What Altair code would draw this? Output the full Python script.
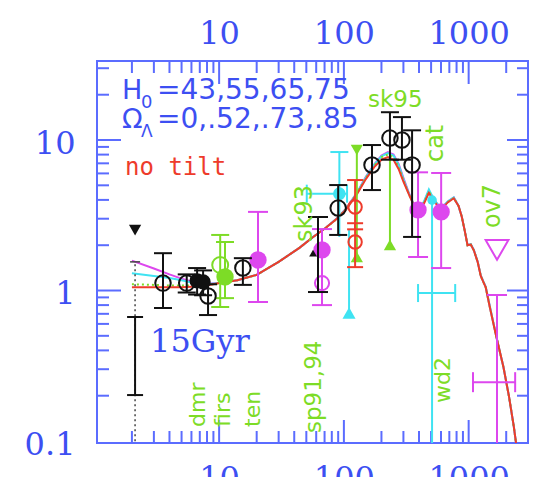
import altair as alt
import pandas as pd

# ---- colours ---------------------------------------------------------------
FRAME = "#5b6cff"
INK = "#3d4ff2"
MAGENTA = "#dd47ee"
CYAN = "#3fe3f2"
GREEN = "#7ddc26"
RED = "#ee3b2b"
BLACK = "#111111"

W, H = 431, 382
L_DOMAIN = [1.05, 2990]
V_DOMAIN = [0.097, 33.5]

# ---- model power spectra (four H0 / Omega_Lambda combinations) -------------
ell = [2, 3, 4, 5, 6, 8, 10, 14, 20, 30, 44, 56, 72, 86, 104, 127, 150, 175,
       200, 225, 250, 275, 300, 330, 360, 400, 440, 480, 530, 600, 680, 760,
       830, 880, 930, 980, 1040, 1100, 1180, 1250, 1310, 1370, 1480, 1660,
       1900, 2100, 2300, 2500]
curve_magenta = [1.58, 1.40, 1.28, 1.20, 1.15, 1.11, 1.12, 1.17, 1.27, 1.55,
                 1.92, 2.25, 2.62, 2.97, 3.5, 4.45, 5.7, 6.9, 7.9, 8.3, 8.0,
                 6.9, 5.6, 4.5, 3.8, 3.45, 3.9, 4.6, 4.0, 3.5, 3.9, 4.15,
                 3.65, 3.1, 2.5, 2.0, 2.03, 1.86, 1.56, 1.26, 1.15, 1.06,
                 0.78, 0.50, 0.31, 0.20, 0.125, 0.075]
curve_cyan = [1.30, 1.25, 1.21, 1.17, 1.13, 1.10, 1.12, 1.17, 1.27, 1.55,
              1.92, 2.25, 2.62, 2.96, 3.48, 4.42, 5.65, 6.85, 7.8, 8.2, 7.9,
              6.8, 5.5, 4.45, 3.78, 3.45, 3.92, 4.7, 4.0, 3.5, 3.9, 4.15,
              3.65, 3.1, 2.5, 2.0, 2.03, 1.86, 1.56, 1.26, 1.15, 1.06, 0.78,
              0.50, 0.31, 0.20, 0.125, 0.075]
curve_green = [1.10, 1.09, 1.08, 1.08, 1.08, 1.09, 1.12, 1.17, 1.27, 1.55,
               1.92, 2.25, 2.62, 2.95, 3.47, 4.4, 5.6, 6.75, 7.7, 8.0, 7.7,
               6.6, 5.4, 4.42, 3.76, 3.42, 3.85, 4.55, 3.95, 3.48, 3.87,
               4.12, 3.65, 3.1, 2.5, 2.0, 2.02, 1.85, 1.55, 1.25, 1.14, 1.05,
               0.77, 0.50, 0.31, 0.20, 0.125, 0.075]
curve_red = [1.05, 1.05, 1.05, 1.05, 1.06, 1.08, 1.12, 1.17, 1.27, 1.55,
             1.92, 2.25, 2.62, 2.95, 3.45, 4.35, 5.5, 6.6, 7.4, 7.7, 7.4,
             6.4, 5.3, 4.4, 3.75, 3.4, 3.8, 4.45, 3.9, 3.45, 3.85, 4.1,
             3.65, 3.1, 2.5, 2.0, 2.02, 1.85, 1.55, 1.25, 1.14, 1.05, 0.77,
             0.50, 0.31, 0.20, 0.125, 0.075]

# ---- measurements ------------------------------------------------------------
# compilation: open black circles
cmp_l = [3.55, 5.5, 8.15, 15.5, 90, 168, 234, 292, 352]
cmp_v = [1.12, 1.12, 0.92, 1.41, 3.53, 6.82, 10.3, 10.0, 6.82]
cmp_lo = [0.765, 0.97, 0.687, 1.09, 2.34, 4.65, 7.4, 7.4, 2.27]
cmp_hi = [1.77, 1.28, 1.10, 1.64, 5.02, 9.26, 15.3, 14.2, 11.6]
# DMR: filled black circles
dmr_l = [6.66, 7.44]
dmr_v = [1.16, 1.14]
dmr_lo = [0.94, 0.93]
dmr_hi = [1.41, 1.36]
# quadrupole
quad_l = [2.12]
quad_limit = [2.52]
quad_top = [1.55]
quad_lo = [0.202]
quad_hi = [0.667]
# bar with a small triangle marker near l~60
sp_l = [62]
sp_lo = [0.977]
sp_hi = [3.08]
sp_tri_l = [56.6]
sp_tri_v = [1.77]
# FIRS (open) and Tenerife-like (filled) green points
firs_l = [10.2]
firs_v = [1.477]
firs_lo = [0.777]
firs_hi = [2.34]
grn_l = [11.15]
grn_v = [1.23]
grn_lo = [0.89]
grn_hi = [2.10]
# green triangle ranges
gtri_l = [127, 234]
gtri_top = [8.58, 7.36]
gtri_bot = [1.67, 2.01]
# magenta filled points
mag_l = [20.5, 66.8, 393, 602]
mag_v = [1.595, 1.86, 3.43, 3.33]
mag_lo = [0.839, 0.80, 1.67, 1.41]
mag_hi = [3.33, 2.56, 6.1, 6.04]
mag_open_l = [66.8]
mag_open_v = [1.12]
ov7_l = [1688]
ov7_v = [1.86]
hi_l = [1688]
hi_v = [0.246]
hi_l_lo = [1083]
hi_l_hi = [2359]
hi_v_lo = [0.05]
hi_v_hi = [0.934]
# cyan points
cy_l = [92]
cy_v = [4.4]
cy_lo = [2.27]
cy_hi = [8.32]
cy_l_lo = [50.4]
cy_l_hi = [106]
cy2_l = [110]
cy2_top = [2.52]
cy2_bot = [0.709]
wd_l = [509]
wd_top = [3.99]
wd_bot = [0.05]
wd_v = [0.962]
wd_l_lo = [393]
wd_l_hi = [780]
# Saskatoon-like open red circles
sk_l = [123, 123]
sk_v = [3.59, 2.10]
sk_lo = [2.55, 1.43]
sk_hi = [5.42, 2.8]

# ---- axis ticks ----------------------------------------------------------------
l_minor = [2, 3, 4, 5, 6, 7, 8, 9, 20, 30, 40, 50, 60, 70, 80, 90,
           200, 300, 400, 500, 600, 700, 800, 900, 2000]
l_major = [10, 100, 1000]
v_minor = [0.2, 0.3, 0.4, 0.5, 0.6, 0.7, 0.8, 0.9,
           2, 3, 4, 5, 6, 7, 8, 9, 20, 30]
v_major = [1, 10]
v_labels = [0.1, 1, 10]

XS = alt.Scale(type="log", domain=L_DOMAIN, nice=False)
YS = alt.Scale(type="log", domain=V_DOMAIN, nice=False)


def xq(field, axis=None):
    return alt.X(field, type="quantitative", scale=XS, axis=axis)


def yq(field, axis=None):
    return alt.Y(field, type="quantitative", scale=YS, axis=axis)


LAB = dict(domain=False, ticks=False, tickSize=0, grid=False, title=None,
           labelFont="DejaVu Serif", labelFontSize=32, labelColor=INK,
           labelOverlap=False, labelFlush=False, labelBound=False)
AX_BOTTOM = alt.Axis(orient="bottom", values=l_major, format="d",
                     labelPadding=20, **LAB)
AX_TOP = alt.Axis(orient="top", values=l_major, format="d",
                  labelPadding=11, **LAB)
AX_LEFT = alt.Axis(orient="left", values=v_labels, format="~g",
                   labelPadding=22, labelOffset=3, **LAB)


def xticks(vals, length, side, axis=None):
    df = pd.DataFrame({"t": vals})
    y0, y1 = (0, length) if side == "top" else (H, H - length)
    return alt.Chart(df).mark_rule(color=FRAME, strokeWidth=2).encode(
        x=xq("t", axis), y=alt.value(y0), y2=alt.value(y1))


def yticks(vals, length, side, axis=None):
    df = pd.DataFrame({"t": vals})
    x0, x1 = (0, length) if side == "left" else (W, W - length)
    return alt.Chart(df).mark_rule(color=FRAME, strokeWidth=2).encode(
        y=yq("t", axis), x=alt.value(x0), x2=alt.value(x1))


def curve(vals, color, dash=None):
    df = pd.DataFrame({"l": ell, "v": vals})
    kw = dict(color=color, strokeWidth=2, clip=True)
    if dash:
        kw["strokeDash"] = dash
    return alt.Chart(df).mark_line(**kw).encode(x=xq("l"), y=yq("v"))


def vbars(ls, lo, hi, color, cap=9, width=2, caps=("lo", "hi"), dash=None):
    df = pd.DataFrame({"l": ls, "lo": lo, "hi": hi})
    base = alt.Chart(df)
    kw = dict(color=color, strokeWidth=width, clip=True)
    if dash:
        kw["strokeDash"] = dash
    out = [base.mark_rule(**kw).encode(x=xq("l"), y=yq("lo"), y2=alt.Y2("hi"))]
    for f in caps:
        out.append(base.mark_rule(color=color, strokeWidth=width, clip=True,
                                  xOffset=-cap, x2Offset=cap).encode(
            x=xq("l"), x2=alt.X2("l"), y=yq(f)))
    return out


def hbars(v, llo, lhi, color, cap=9, width=2):
    df = pd.DataFrame({"v": v, "a": llo, "b": lhi})
    base = alt.Chart(df)
    out = [base.mark_rule(color=color, strokeWidth=width, clip=True).encode(
        x=xq("a"), x2=alt.X2("b"), y=yq("v"))]
    for f in ("a", "b"):
        out.append(base.mark_rule(color=color, strokeWidth=width, clip=True,
                                  yOffset=-cap, y2Offset=cap).encode(
            x=xq(f), y=yq("v"), y2=alt.Y2("v")))
    return out


def pts(ls, vs, color, shape, size, filled, sw=2):
    df = pd.DataFrame({"l": ls, "v": vs})
    return alt.Chart(df).mark_point(
        shape=shape, size=size, filled=filled, color=color, strokeWidth=sw,
        opacity=1, clip=True).encode(x=xq("l"), y=yq("v"))


def label(text, l, v, color, size, font="DejaVu Sans", angle=0, dx=0, dy=0):
    df = pd.DataFrame({"l": [l], "v": [v], "t": [text]})
    return alt.Chart(df).mark_text(
        text=text, font=font, fontSize=size, color=color, angle=angle,
        dx=dx, dy=dy, align="left", baseline="alphabetic").encode(
        x=xq("l"), y=yq("v"))


layers = [
    # frame ticks; the major-tick layers carry the tick labels
    xticks(l_minor, 12, "bottom"),
    xticks(l_major, 23, "bottom", AX_BOTTOM),
    xticks(l_minor, 12, "top"),
    xticks(l_major, 23, "top", AX_TOP),
    yticks(v_minor, 12, "left"),
    yticks(v_major, 24, "left", AX_LEFT),
    yticks(v_minor, 11, "right"),
    yticks(v_major, 21, "right"),
    # model curves
    curve(curve_magenta, MAGENTA),
    curve(curve_cyan, CYAN),
    curve(curve_green, GREEN, dash=[2, 3]),
    curve(curve_red, RED),
]

# quadrupole: dotted range, solid band and upper-limit triangle
layers += vbars(quad_l, [0.05], quad_top, "#444444", width=1.5, cap=5,
                caps=("hi",), dash=[2, 3])
layers += vbars(quad_l, quad_lo, quad_hi, BLACK, cap=8)
layers.append(pts(quad_l, quad_limit, BLACK, "triangle-down", 150, True))

# cyan
layers += vbars(cy_l, cy_lo, cy_hi, CYAN, caps=("hi",))
layers += hbars(cy_v, cy_l_lo, cy_l_hi, CYAN)
layers.append(pts(cy_l, cy_v, CYAN, "circle", 160, True))
layers += vbars(cy2_l, cy2_bot, cy2_top, CYAN, caps=())
layers.append(pts(cy2_l, cy2_bot, CYAN, "triangle-up", 170, True))
layers += vbars(wd_l, wd_bot, wd_top, CYAN, caps=())
layers += hbars(wd_v, wd_l_lo, wd_l_hi, CYAN)
layers.append(pts(wd_l, wd_top, CYAN, "circle", 90, True))

# green
layers += vbars(firs_l, firs_lo, firs_hi, GREEN)
layers.append(pts(firs_l, firs_v, GREEN, "circle", 254, False))
layers += vbars(grn_l, grn_lo, grn_hi, GREEN)
layers.append(pts(grn_l, grn_v, GREEN, "circle", 300, True))
layers += vbars(gtri_l, gtri_bot, gtri_top, GREEN, caps=())
layers.append(pts(gtri_l[:1], gtri_top[:1], GREEN, "triangle-down", 150, True))
layers.append(pts(gtri_l, gtri_bot, GREEN, "triangle-up", 150, True))

# magenta
layers += vbars(mag_l, mag_lo, mag_hi, MAGENTA, cap=10)
layers.append(pts(mag_l, mag_v, MAGENTA, "circle", 300, True))
layers.append(pts(mag_open_l, mag_open_v, MAGENTA, "circle", 200, False))
layers.append(pts(ov7_l, ov7_v, MAGENTA, "triangle-down", 520, False))
layers += vbars(hi_l, hi_v_lo, hi_v_hi, MAGENTA, cap=10, caps=("hi",))
layers += hbars(hi_v, hi_l_lo, hi_l_hi, MAGENTA, cap=10)

# red
layers += vbars(sk_l, sk_lo, sk_hi, RED, cap=8)
layers.append(pts(sk_l, sk_v, RED, "circle", 180, False))

# black
layers += vbars(sp_l, sp_lo, sp_hi, BLACK, cap=10)
layers.append(pts(sp_tri_l, sp_tri_v, BLACK, "triangle-up", 60, True))
layers += vbars(cmp_l, cmp_lo, cmp_hi, BLACK, cap=9)
layers.append(pts(cmp_l, cmp_v, BLACK, "circle", 240, False))
layers += vbars(dmr_l, dmr_lo, dmr_hi, BLACK, cap=9)
layers.append(pts(dmr_l, dmr_v, BLACK, "circle", 230, True))

# annotations
layers += [
    label("H", 1.667, 18.73, INK, 27),
    label("0", 1.667, 18.73, INK, 18, dx=19, dy=9),
    label("=43,55,65,75", 1.667, 18.73, INK, 28, dx=35),
    label("Ω", 1.667, 12.0, INK, 27),
    label("Λ", 1.667, 12.0, INK, 17, dx=19, dy=9),
    label("=0,.52,.73,.85", 1.667, 12.0, INK, 28, dx=35),
    label("no tilt", 1.762, 5.85, RED, 24, font="DejaVu Sans Mono"),
    label("15Gyr", 2.794, 0.390, INK, 32, font="DejaVu Serif"),
    label("sk95", 156, 16.6, GREEN, 23),
    label("dmr", 7.71, 0.124, GREEN, 22, angle=270),
    label("firs", 12.2, 0.124, GREEN, 22, angle=270),
    label("ten", 21.3, 0.124, GREEN, 22, angle=270),
    label("sp91,94", 65.6, 0.113, GREEN, 23, angle=270),
    label("sk93", 55.5, 2.10, GREEN, 24, angle=270),
    label("cat", 623, 7.14, GREEN, 24, angle=270),
    label("ov7", 1783, 2.60, GREEN, 24, angle=270),
    label("wd2", 709, 0.179, GREEN, 22, angle=270),
]

chart = alt.layer(*layers).resolve_axis(
    x="independent", y="independent"
).properties(
    width=W, height=H,
    autosize=alt.AutoSizeParams(type="none"),
    padding={"left": 97, "top": 61, "right": 11, "bottom": 34},
    background="white",
).configure_view(stroke=FRAME, strokeWidth=2)

chart.save("out.html", embed_options={"renderer": "svg", "actions": False})
